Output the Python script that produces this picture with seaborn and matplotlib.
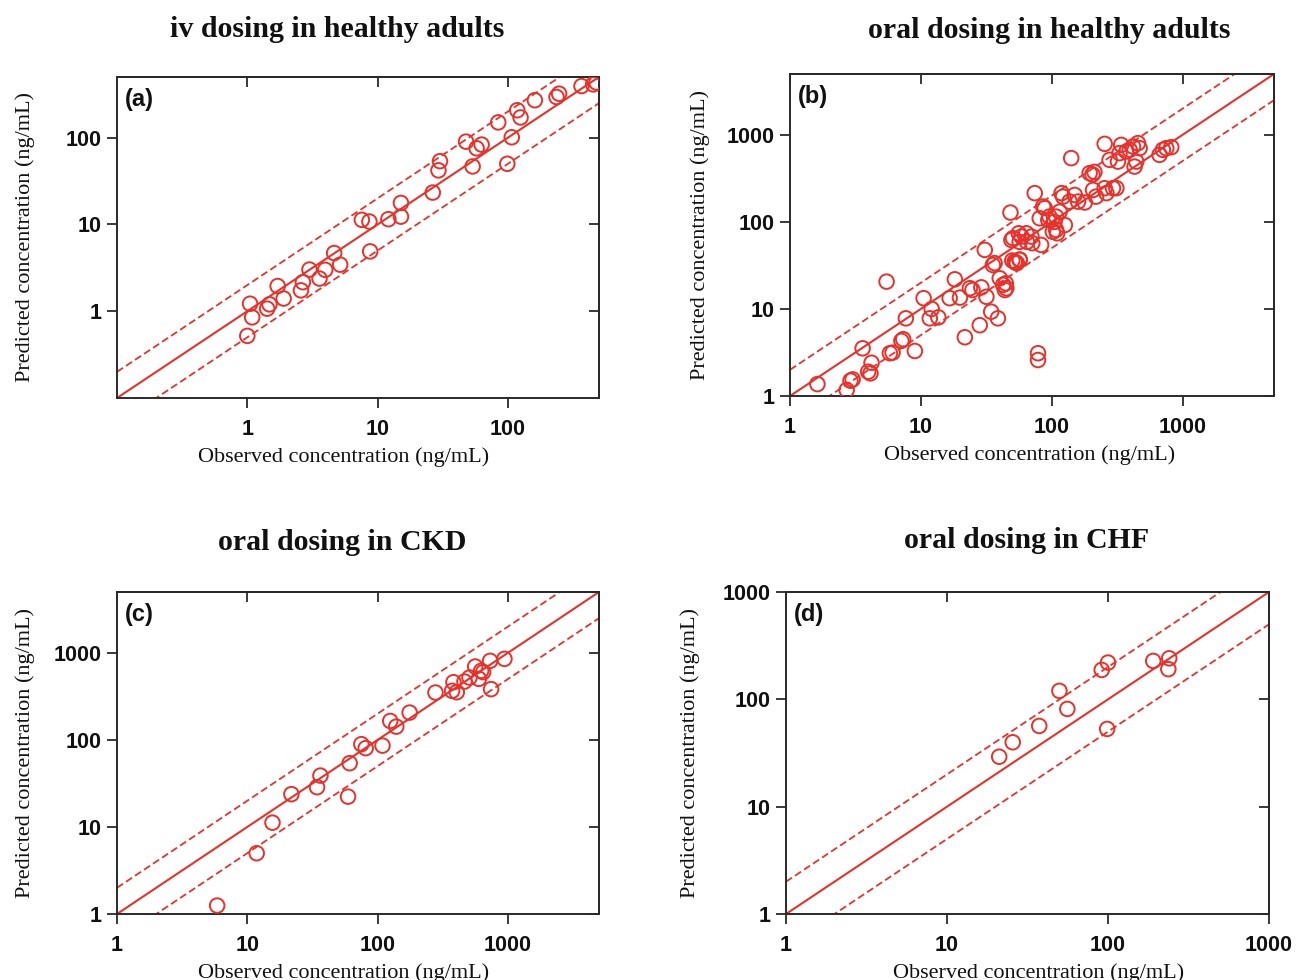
import numpy as np
import pandas as pd
import matplotlib
matplotlib.use("Agg")
import matplotlib.pyplot as plt
import seaborn as sns

# ---------------- data ----------------
a_obs = [1.0, 1.05, 1.09, 1.42, 1.48, 1.71, 1.9, 2.58, 2.67, 3.0, 3.58, 3.96, 4.64, 5.16,
         7.57, 8.65, 8.77, 12.1, 15.1, 15.1, 26.5, 29.3, 30.1, 47.7, 53.6, 57.5, 62.8,
         84.3, 98.9, 107, 118, 125, 161, 236, 247, 367, 451, 478]
a_pred = [0.52, 1.22, 0.85, 1.07, 1.2, 1.95, 1.4, 1.74, 2.16, 3.02, 2.38, 3.0, 4.68, 3.44,
          11.3, 10.8, 4.89, 11.5, 17.7, 12.3, 23.3, 42, 53.6, 90, 46.6, 75.4, 83.2,
          150, 50, 101, 207, 171, 270, 294, 321, 393, 411, 432]

b_obs = [1.62, 2.71, 2.9, 3.01, 3.96, 4.2, 4.12, 3.59, 5.47, 5.8, 6.08, 7.33, 7.1, 7.68,
         9.0, 10.5, 12.1, 11.7, 13.6, 16.6, 18.2, 19.9, 21.7, 23.7, 24.8, 28.2, 29.0,
         30.8, 31.7, 34.5, 35.5, 36.6, 38.8, 40.1, 44.6, 43.9, 48.4, 50.6, 52.1, 54.2,
         56.0, 56.9, 64, 64.6, 56.9, 42.5, 45, 49.2, 58.7, 70, 74.2, 78.6, 78.6, 81, 83,
         88.5, 94.2, 102, 108, 108, 115, 119, 122, 126, 137, 141, 150, 159, 179, 195,
         207, 218, 254, 254, 262, 277, 294, 312, 321, 330, 340, 372, 394, 418, 430, 443,
         456, 470, 667, 707, 751, 820, 50, 53, 57, 71, 86, 96, 105, 110, 205, 212]
b_pred = [1.37, 1.17, 1.5, 1.55, 1.9, 2.41, 1.82, 3.53, 20.6, 3.1, 3.15, 4.49, 4.3, 7.8,
          3.29, 13.3, 10.0, 7.8, 8.0, 13.3, 21.9, 13.5, 4.73, 17.3, 16.5, 6.5, 17.7,
          47.7, 13.8, 9.3, 32, 33.6, 7.8, 22.5, 19.7, 16.5, 128, 65, 35, 33.6,
          74, 59, 74, 59, 36.6, 18.9, 17.3, 62, 67.8, 67.8, 214, 3.1, 2.59, 110, 54.4,
          144, 105, 77, 81, 115, 131, 214, 195, 92, 171, 540, 204, 171, 167, 363,
          233, 195, 788, 244, 214, 516, 244, 244, 493, 617, 767, 643, 673, 735, 432, 493,
          803, 703, 589, 673, 703, 721, 36, 34, 37, 57, 150, 115, 100, 74, 350, 375]

c_obs = [5.87, 11.8, 15.6, 21.8, 34.3, 36.4, 59.3, 61, 75, 81, 109, 125, 139, 176, 278,
         373, 382, 405, 464, 507, 561, 598, 623, 645, 730, 743, 940]
c_pred = [1.25, 4.99, 11.2, 23.8, 28.6, 38.9, 22.3, 54, 89.3, 80.4, 86, 165, 142, 206, 350,
          366, 460, 353, 468, 520, 696, 503, 621, 600, 809, 383, 853]

d_obs = [21.1, 25.6, 37.4, 49.9, 55.9, 91.4, 100, 98.8, 191, 240, 237]
d_pred = [29.2, 39.8, 56.5, 120, 81.4, 188, 220, 53, 228, 241, 191]

titles = ["iv dosing in healthy adults", "oral dosing in healthy adults",
          "oral dosing in CKD", "oral dosing in CHF"]
panel_labels = ["(a)", "(b)", "(c)", "(d)"]
limits = [(0.1, 500), (1, 5000), (1, 5000), (1, 1000)]
x_ticks = [[1, 10, 100], [1, 10, 100, 1000], [1, 10, 100, 1000], [1, 10, 100, 1000]]
y_ticks = [[1, 10, 100], [1, 10, 100, 1000], [1, 10, 100, 1000], [1, 10, 100, 1000]]
fold = 2.0

# ---------------- style ----------------
sns.set_theme(style="white")
plt.rcParams['font.family'] = ['Liberation Sans', 'DejaVu Sans']

RED = "#E8312B"
FRAME = "#2a2a2a"

fig = plt.figure(figsize=(12.96, 9.8), dpi=100)
W, H = 1296, 980
boxes = [(117, 77, 599, 398), (790, 74, 1274, 396), (117, 592, 599, 914), (786, 592, 1269, 914)]
title_x = [0.456, 0.535, 0.467, 0.499]
title_pad = [29, 26, 30, 32]
ylabel_x = [-0.170, -0.166, -0.170, -0.179]
xlabel_x = [0.471, 0.494, 0.471, 0.522]

datasets = [(a_obs, a_pred), (b_obs, b_pred), (c_obs, c_pred), (d_obs, d_pred)]

for i, (l, t, r, b) in enumerate(boxes):
    ax = fig.add_axes([l / W, 1 - b / H, (r - l) / W, (b - t) / H])
    obs, pred = datasets[i]
    df = pd.DataFrame({"obs": obs, "pred": pred})
    lo, hi = limits[i]
    ax.set_xscale("log")
    ax.set_yscale("log")
    ref = np.array([lo, hi])
    ax.plot(ref, ref, color=RED, lw=1.5, zorder=2)
    ax.plot(ref, ref * fold, color=RED, lw=1.3, ls=(0, (4, 2)), zorder=2)
    ax.plot(ref, ref / fold, color=RED, lw=1.3, ls=(0, (4, 2)), zorder=2)
    sns.scatterplot(data=df, x="obs", y="pred", ax=ax, marker="o", s=110,
                    facecolor="none", edgecolor=RED, linewidth=1.4, zorder=3)
    ax.set_xlim(lo, hi)
    ax.set_ylim(lo, hi)
    ax.minorticks_off()
    ax.set_xticks(x_ticks[i])
    ax.set_xticklabels([str(v) for v in x_ticks[i]])
    ax.set_yticks(y_ticks[i])
    ax.set_yticklabels([str(v) for v in y_ticks[i]])
    ax.tick_params(axis="both", which="major", direction="out", length=7, width=1.3,
                   color=FRAME, labelsize=15.5, pad=4, labelcolor="#111111",
                   bottom=True, left=True, top=False, right=False)
    for lab in ax.get_xticklabels() + ax.get_yticklabels():
        lab.set_fontweight("bold")
    ax.tick_params(axis="x", pad=8)
    # inward ticks on top and right
    secx = ax.secondary_xaxis("top")
    secx.set_xticks(x_ticks[i])
    secx.tick_params(direction="in", length=7, width=1.3, color=FRAME, labeltop=False, top=True)
    secx.xaxis.set_minor_locator(matplotlib.ticker.NullLocator())
    secy = ax.secondary_yaxis("right")
    secy.set_yticks(y_ticks[i])
    secy.tick_params(direction="in", length=7, width=1.3, color=FRAME, labelright=False, right=True)
    secy.yaxis.set_minor_locator(matplotlib.ticker.NullLocator())
    for sp in ax.spines.values():
        sp.set_color(FRAME)
        sp.set_linewidth(1.4)
    ax.set_xlabel("Observed concentration (ng/mL)", family=["Liberation Serif"],
                  fontsize=16, labelpad=5, color="#111111", x=xlabel_x[i])
    ax.set_ylabel("Predicted concentration (ng/mL)", family=["Liberation Serif"],
                  fontsize=16, color="#111111")
    ax.yaxis.set_label_coords(ylabel_x[i], 0.5)
    ax.set_title(titles[i], family=["Liberation Serif"], fontweight="bold", fontsize=21.5,
                 x=title_x[i], pad=title_pad[i], color="#111111")
    ax.text(0.016, 0.965, panel_labels[i], transform=ax.transAxes, ha="left", va="top",
            fontsize=17, fontweight="bold", color="#111111")

fig.savefig("out.png", dpi=100)
